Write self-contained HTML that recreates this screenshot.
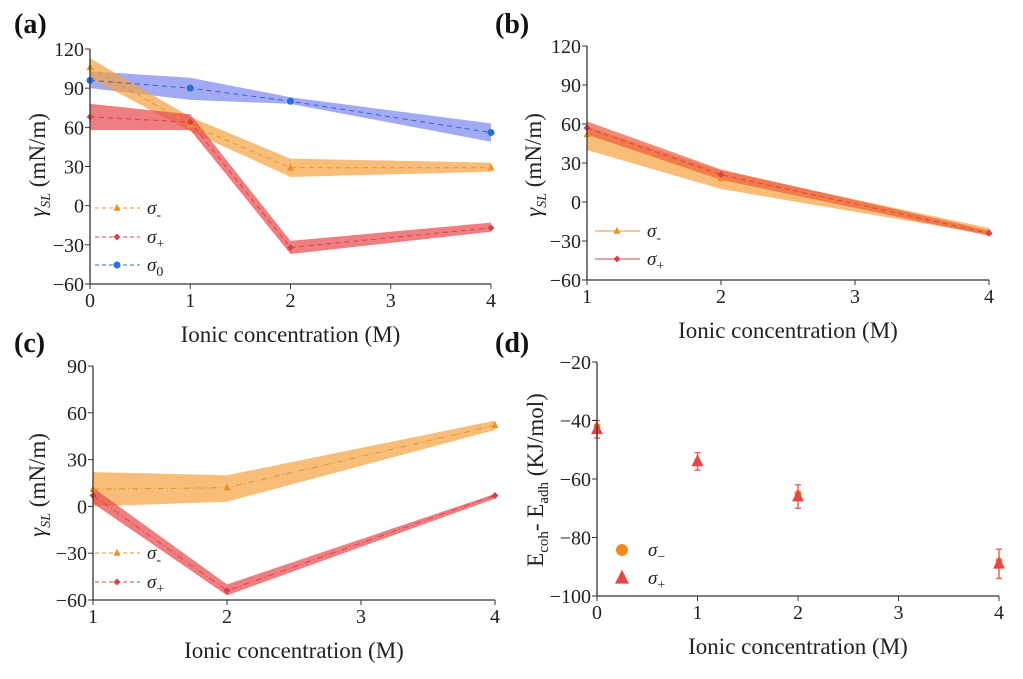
<!DOCTYPE html>
<html><head><meta charset="utf-8"><style>
html,body{margin:0;padding:0;background:#fff;}
svg{display:block;font-family:"Liberation Serif",serif;}
</style></head><body>
<svg id="fig" width="1023" height="679" viewBox="0 0 1023 679" xmlns="http://www.w3.org/2000/svg"></svg>
<script>
// ---- Panel (a) data ----
const aX = [0, 1, 2, 4];
const aMinus = [106, 62, 29, 29];
const aMinusLo = [98, 57, 22, 26];
const aMinusHi = [113, 68, 36, 33];
const aPlus = [68, 64, -32, -17];
const aPlusLo = [58, 58, -37, -20];
const aPlusHi = [78, 70, -27, -13];
const aZero = [96, 90, 80, 56];
const aZeroLo = [90, 81, 78, 49];
const aZeroHi = [103, 98, 83, 63];
const aXTicks = [0, 1, 2, 3, 4];
const aYTicks = [-60, -30, 0, 30, 60, 90, 120];
// ---- Panel (b) data ----
const bX = [1, 2, 4];
const bMinus = [52, 18, -23];
const bMinusLo = [40, 10, -25];
const bMinusHi = [58, 24, -20];
const bPlus = [57, 21, -24];
const bPlusLo = [52, 17, -26];
const bPlusHi = [62, 25, -22];
const bXTicks = [1, 2, 3, 4];
const bYTicks = [-60, -30, 0, 30, 60, 90, 120];
// ---- Panel (c) data ----
const cX = [1, 2, 4];
const cMinus = [11, 12, 52];
const cMinusLo = [0, 3, 49];
const cMinusHi = [22, 20, 55];
const cPlus = [7, -54, 7];
const cPlusLo = [2, -57, 5];
const cPlusHi = [12, -50, 8];
const cXTicks = [1, 2, 3, 4];
const cYTicks = [-60, -30, 0, 30, 60, 90];
// ---- Panel (d) data ----
const dX = [0, 1, 2, 4];
const dMinus = [-42, -54, -65, -88];
const dPlus = [-43, -54, -66, -89];
const dErrLo = [3, 3, 4, 5];
const dErrHi = [3, 3, 4, 5];
const dXTicks = [0, 1, 2, 3, 4];
const dYTicks = [-100, -80, -60, -40, -20];

const NS = "http://www.w3.org/2000/svg";
const svg = document.getElementById('fig');
function mk(tag, attrs, parent, text) {
  const e = document.createElementNS(NS, tag);
  for (const k in attrs) e.setAttribute(k, attrs[k]);
  if (text !== undefined) e.textContent = text;
  (parent || svg).appendChild(e);
  return e;
}
const ORANGE = '#f5a340', RED = '#e8474a', BLUE = '#7b86f0';
const ORM = '#e8922a', RDM = '#d8434a', BLM = '#2a6fd6';

function axes(g, P, xt, yt, ytitleHTML) {
  mk('line', {x1: P.x0, y1: P.yb, x2: P.x1, y2: P.yb, stroke: '#333', 'stroke-width': 1.3}, g);
  mk('line', {x1: P.x0, y1: P.yb, x2: P.x0, y2: P.yt, stroke: '#333', 'stroke-width': 1.3}, g);
  xt.forEach(v => {
    const x = P.sx(v);
    mk('line', {x1: x, y1: P.yb, x2: x, y2: P.yb + 5, stroke: '#333'}, g);
    const t = mk('text', {x: x, y: P.yb + 23, 'font-size': 20, 'text-anchor': 'middle', fill: '#222'}, g, String(v));
    
    
  });
  yt.forEach(v => {
    const y = P.sy(v);
    mk('line', {x1: P.x0 - 5, y1: y, x2: P.x0, y2: y, stroke: '#333'}, g);
    const t = mk('text', {x: P.x0 - 6, y: y + 7, 'font-size': 20, 'text-anchor': 'end', fill: '#222'}, g, String(v).replace('-', '\u2212'));
    
    
  });
  const xt2 = mk('text', {x: (P.x0 + P.x1) / 2, y: P.yb + 58, 'font-size': 23, 'text-anchor': 'middle', fill: '#222'}, g, 'Ionic concentration (M)');
  
  
}
function yTitleGamma(g, cx, cy) {
  const t = mk('text', {transform: `translate(${cx},${cy}) rotate(-90)`, 'font-size': 23, 'text-anchor': 'middle', fill: '#222'}, g);
  
  
  mk('tspan', {'font-style': 'italic'}, t, 'γ');
  mk('tspan', {'font-style': 'italic', 'font-size': 14, dy: 5}, t, 'SL');
  mk('tspan', {dy: -5}, t, ' (mN/m)');
}
function band(g, P, xs, lo, hi, color, name) {
  let d = '';
  xs.forEach((x, i) => d += (i ? 'L' : 'M') + P.sx(x) + ',' + P.sy(hi[i]));
  for (let i = xs.length - 1; i >= 0; i--) d += 'L' + P.sx(xs[i]) + ',' + P.sy(lo[i]);
  const p = mk('path', {d: d + 'Z', fill: color, 'fill-opacity': 0.7}, g);
  
  
}
function line(g, P, xs, ys, color, name, dash) {
  const pts = xs.map((x, i) => P.sx(x) + ',' + P.sy(ys[i])).join(' ');
  const l = mk('polyline', {points: pts, fill: 'none', stroke: color, 'stroke-width': 1, 'stroke-dasharray': dash || '5,4'}, g);
  
  
}
function marker(g, x, y, type, color, r) {
  r = r || 3.5;
  let m;
  if (type === 'tri') m = mk('path', {d: `M${x},${y - r * 1.2}L${x + r},${y + r * 0.8}L${x - r},${y + r * 0.8}Z`, fill: color}, g);
  else if (type === 'dia') m = mk('path', {d: `M${x},${y - r}L${x + r},${y}L${x},${y + r}L${x - r},${y}Z`, fill: color}, g);
  else m = mk('circle', {cx: x, cy: y, r: r, fill: color}, g);
  
  
}
function points(g, P, xs, ys, type, color) { xs.forEach((x, i) => marker(g, P.sx(x), P.sy(ys[i]), type, color)); }
function legendEntry(g, x, y, type, color, sub, solid) {
  const e = mk('g', {}, g);
  
  
  mk('line', {x1: x, y1: y, x2: x + 45, y2: y, stroke: color, 'stroke-width': 1, 'stroke-dasharray': solid ? '' : '4,3'}, e);
  marker(e, x + 22, y, type, color);
  const t = mk('text', {x: x + 52, y: y + 6, 'font-size': 19, 'font-style': 'italic', fill: '#222'}, e, 'σ');
  mk('tspan', {'font-size': 14, dy: 5, 'font-style': 'normal'}, t, sub);
}
function panelLabel(x, y, s, name) {
  const t = mk('text', {x: x, y: y, 'font-size': 28, 'font-weight': 'bold', fill: '#111'}, svg, s);
  
  
}
function scaler(x0, x1, xa, xb, yb, yt, ya, yz) {
  return {x0: x0, x1: x1, yb: yb, yt: yt,
    sx: v => x0 + (v - xa) / (xb - xa) * (x1 - x0),
    sy: v => yb - (v - ya) / (yz - ya) * (yb - yt)};
}

// Panel a
let g = mk('g', {});  
let P = scaler(90, 491, 0, 4, 284, 49, -60, 120);
band(g, P, aX, aZeroLo, aZeroHi, BLUE, 'band-sigma0');
band(g, P, aX, aMinusLo, aMinusHi, ORANGE, 'band-sigma-minus');
band(g, P, aX, aPlusLo, aPlusHi, RED, 'band-sigma-plus');
line(g, P, aX, aZero, '#3a5fc8', 'line-sigma0');
line(g, P, aX, aMinus, ORM, 'line-sigma-minus');
line(g, P, aX, aPlus, RDM, 'line-sigma-plus');
points(g, P, aX, aZero, 'circ', BLM);
points(g, P, aX, aMinus, 'tri', ORM);
points(g, P, aX, aPlus, 'dia', RDM);
axes(g, P, aXTicks, aYTicks);
yTitleGamma(g, 45, 165);
legendEntry(g, 95, 208, 'tri', ORM, '-');
legendEntry(g, 95, 237, 'dia', RDM, '+');
legendEntry(g, 95, 265, 'circ', BLM, '0');
panelLabel(14, 33, '(a)', 'panel-label-a');

// Panel b
g = mk('g', {});  
P = scaler(587, 989, 1, 4, 280, 46, -60, 120);
band(g, P, bX, bMinusLo, bMinusHi, ORANGE, 'band-sigma-minus');
band(g, P, bX, bPlusLo, bPlusHi, '#f05a3a', 'band-sigma-plus');
line(g, P, bX, bMinus, ORM, 'line-sigma-minus', '');
line(g, P, bX, bPlus, RDM, 'line-sigma-plus', '');
points(g, P, bX, bMinus, 'tri', ORM);
points(g, P, bX, bPlus, 'dia', RDM);
axes(g, P, bXTicks, bYTicks);
yTitleGamma(g, 541, 165);
legendEntry(g, 595, 231, 'tri', ORM, '-', true);
legendEntry(g, 595, 259, 'dia', RDM, '+', true);
panelLabel(495, 33, '(b)', 'panel-label-b');

// Panel c
g = mk('g', {});  
P = scaler(93, 495, 1, 4, 600, 366, -60, 90);
band(g, P, cX, cMinusLo, cMinusHi, ORANGE, 'band-sigma-minus');
band(g, P, cX, cPlusLo, cPlusHi, RED, 'band-sigma-plus');
line(g, P, cX, cMinus, ORM, 'line-sigma-minus', '6,3,1,3');
line(g, P, cX, cPlus, RDM, 'line-sigma-plus', '6,3,1,3');
points(g, P, cX, cMinus, 'tri', ORM);
points(g, P, cX, cPlus, 'dia', RDM);
axes(g, P, cXTicks, cYTicks);
yTitleGamma(g, 45, 485);
legendEntry(g, 95, 553, 'tri', ORM, '-');
legendEntry(g, 95, 582, 'dia', RDM, '+');
panelLabel(14, 352, '(c)', 'panel-label-c');

// Panel d
g = mk('g', {});  
P = scaler(597, 999, 0, 4, 596, 362, -100, -20);
dX.forEach((x, i) => {
  const px = P.sx(x);
  const eb = mk('g', {}, g);
  
  
  const y1 = P.sy(dPlus[i] - dErrLo[i]), y2 = P.sy(dPlus[i] + dErrHi[i]);
  mk('line', {x1: px, y1: y1, x2: px, y2: y2, stroke: '#e86a60', 'stroke-width': 1.5}, eb);
  mk('line', {x1: px - 3, y1: y1, x2: px + 3, y2: y1, stroke: '#e86a60', 'stroke-width': 1.5}, eb);
  mk('line', {x1: px - 3, y1: y2, x2: px + 3, y2: y2, stroke: '#e86a60', 'stroke-width': 1.5}, eb);
});
points(g, P, dX, dMinus, 'circ', '#f08a20');
dX.forEach((x, i) => marker(g, P.sx(x), P.sy(dPlus[i]), 'tri', '#e8474a', 6));
axes(g, P, dXTicks, dYTicks);
const dt = mk('text', {transform: 'translate(543,480) rotate(-90)', 'font-size': 23, 'text-anchor': 'middle', fill: '#222'}, g);


mk('tspan', {}, dt, 'E');
mk('tspan', {'font-size': 15, dy: 5}, dt, 'coh');
mk('tspan', {dy: -5}, dt, '- E');
mk('tspan', {'font-size': 15, dy: 5}, dt, 'adh');
mk('tspan', {dy: -5}, dt, ' (KJ/mol)');
const l1 = mk('g', {}, g);  
marker(l1, 622, 550, 'circ', '#f08a20', 6);
const lt1 = mk('text', {x: 648, y: 556, 'font-size': 19, 'font-style': 'italic', fill: '#222'}, l1, 'σ');
mk('tspan', {'font-size': 14, dy: 5, 'font-style': 'normal'}, lt1, '\u2212');
const l2 = mk('g', {}, g);  
marker(l2, 622, 578, 'tri', '#e8474a', 7);
const lt2 = mk('text', {x: 648, y: 584, 'font-size': 19, 'font-style': 'italic', fill: '#222'}, l2, 'σ');
mk('tspan', {'font-size': 14, dy: 5, 'font-style': 'normal'}, lt2, '+');
panelLabel(495, 352, '(d)', 'panel-label-d');
</script>
</body></html>
